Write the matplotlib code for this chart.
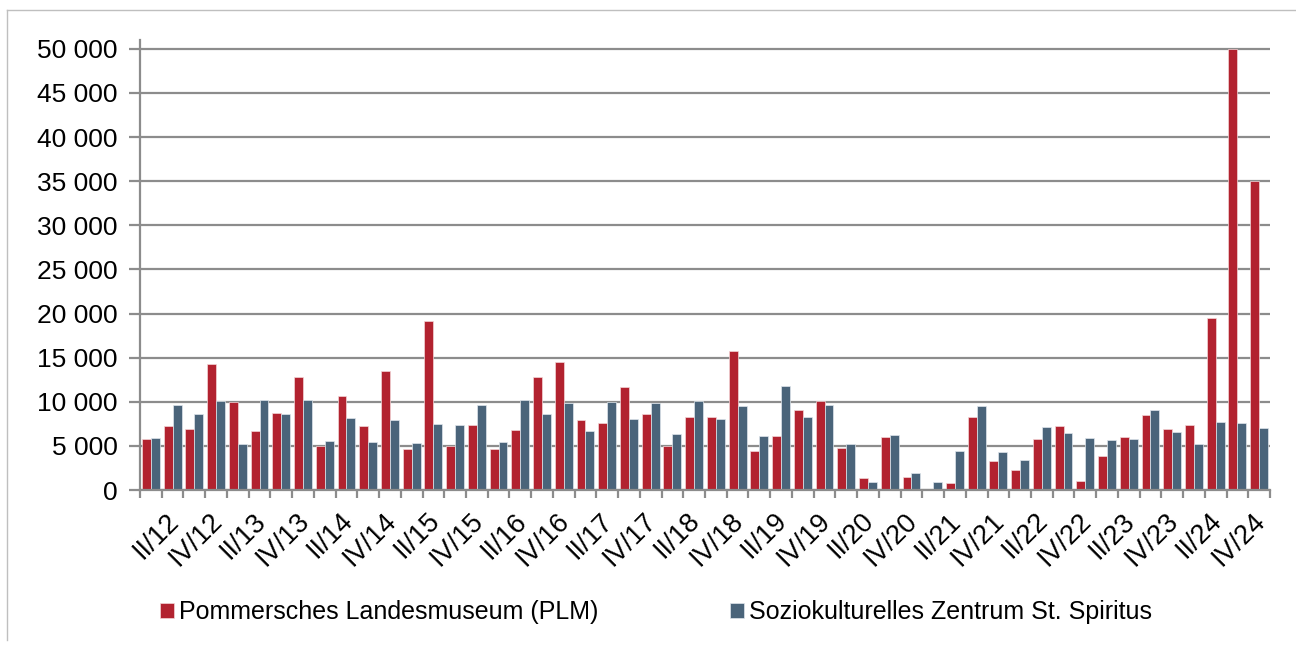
import matplotlib
matplotlib.use("Agg")
import matplotlib.pyplot as plt
import matplotlib.transforms as mtransforms
import numpy as np
from matplotlib.lines import Line2D

plt.rcParams['font.family'] = ['Liberation Sans', 'DejaVu Sans']

years = list(range(12, 25))
quarters = ["I", "II", "III", "IV"]
categories = [f"{q}/{y}" for y in years for q in quarters]

plm = [5760, 7270, 6890, 14300, 9920, 6740, 8710, 12770, 5040, 10680, 7230, 13520,
       4620, 19200, 5000, 7350, 4620, 6820, 12840, 14550, 7950, 7610, 11700, 8560,
       5000, 8330, 8300, 15720, 4470, 6170, 9090, 10080, 4770, 1360, 6020, 1480,
       110, 800, 8330, 3260, 2230, 5800, 7310, 1000, 3890, 6030, 8540, 6900,
       7360, 19500, 50000, 35000]
spiritus = [5900, 9580, 8600, 10100, 5260, 10190, 8600, 10230, 5530, 8180, 5450, 7950,
            5300, 7460, 7420, 9660, 5450, 10230, 8600, 9810, 6740, 10000, 8030, 9890,
            6400, 10040, 8100, 9500, 6140, 11820, 8260, 9580, 5190, 950, 6250, 1930,
            910, 4430, 9550, 4320, 3370, 7160, 6440, 5900, 5690, 5730, 9120, 6610,
            5190, 7700, 7570, 7030]
series_names = ["Pommersches Landesmuseum (PLM)", "Soziokulturelles Zentrum St. Spiritus"]
yticks = list(range(0, 50001, 5000))

RED = "#B2222F"
BLUE = "#4A647A"
GRID = "#8C8C8C"

fig = plt.figure(figsize=(12.96, 6.46), dpi=100)
ax = fig.add_axes([140/1296, 1 - 490/646, 1130/1296, (490-40)/646])

x = np.arange(len(categories))
w = 0.41
b1 = ax.bar(x - w/2, plm, width=w, color=RED, edgecolor="#f3d6d8", linewidth=0.5, label=series_names[0], zorder=3)
b2 = ax.bar(x + w/2, spiritus, width=w, color=BLUE, edgecolor="#dfe6ec", linewidth=0.5, label=series_names[1], zorder=3)

ax.set_xlim(-0.5, len(categories) - 0.5)
ax.set_ylim(0, 51000)
ax.set_yticks(yticks)
ax.set_yticklabels([f"{v:,}".replace(",", " ") for v in yticks], fontsize=19)
ax.grid(axis='y', color=GRID, linewidth=1.6, zorder=0)

ax.set_xticks(x[1::2])
ax.set_xticklabels(categories[1::2], rotation=45, ha='right', rotation_mode='anchor', fontsize=19.5)
ax.set_xticks(np.arange(-0.5, len(categories)), minor=True)
ax.tick_params(axis='x', which='major', length=0, pad=13)
ax.tick_params(axis='x', which='minor', length=6, width=1.6, color=GRID)
ax.tick_params(axis='y', length=8, width=1.6, color=GRID, pad=8)
offset = mtransforms.ScaledTranslation(-7/100, 0, fig.dpi_scale_trans)
for lbl in ax.get_xticklabels():
    lbl.set_transform(lbl.get_transform() + offset)

for s in ['top', 'right']:
    ax.spines[s].set_visible(False)
for s in ['left', 'bottom']:
    ax.spines[s].set_color(GRID)
    ax.spines[s].set_linewidth(1.6)
ax.spines['bottom'].set_zorder(4)

fig.legend(handles=[b1, b2], loc='center', bbox_to_anchor=(656/1296, 1 - 612/646), ncol=2,
           frameon=False, fontsize=18, handlelength=0.55, handleheight=0.55,
           handletextpad=0.2, columnspacing=5.3)

# outer frame
fig.add_artist(Line2D([7/1296, 7/1296], [1 - 10/646, 1 - 640/646], transform=fig.transFigure, color="#bfbfbf", linewidth=1))
fig.add_artist(Line2D([7/1296, 1], [1 - 10/646, 1 - 10/646], transform=fig.transFigure, color="#bfbfbf", linewidth=1))

fig.savefig("out.png", dpi=100)
